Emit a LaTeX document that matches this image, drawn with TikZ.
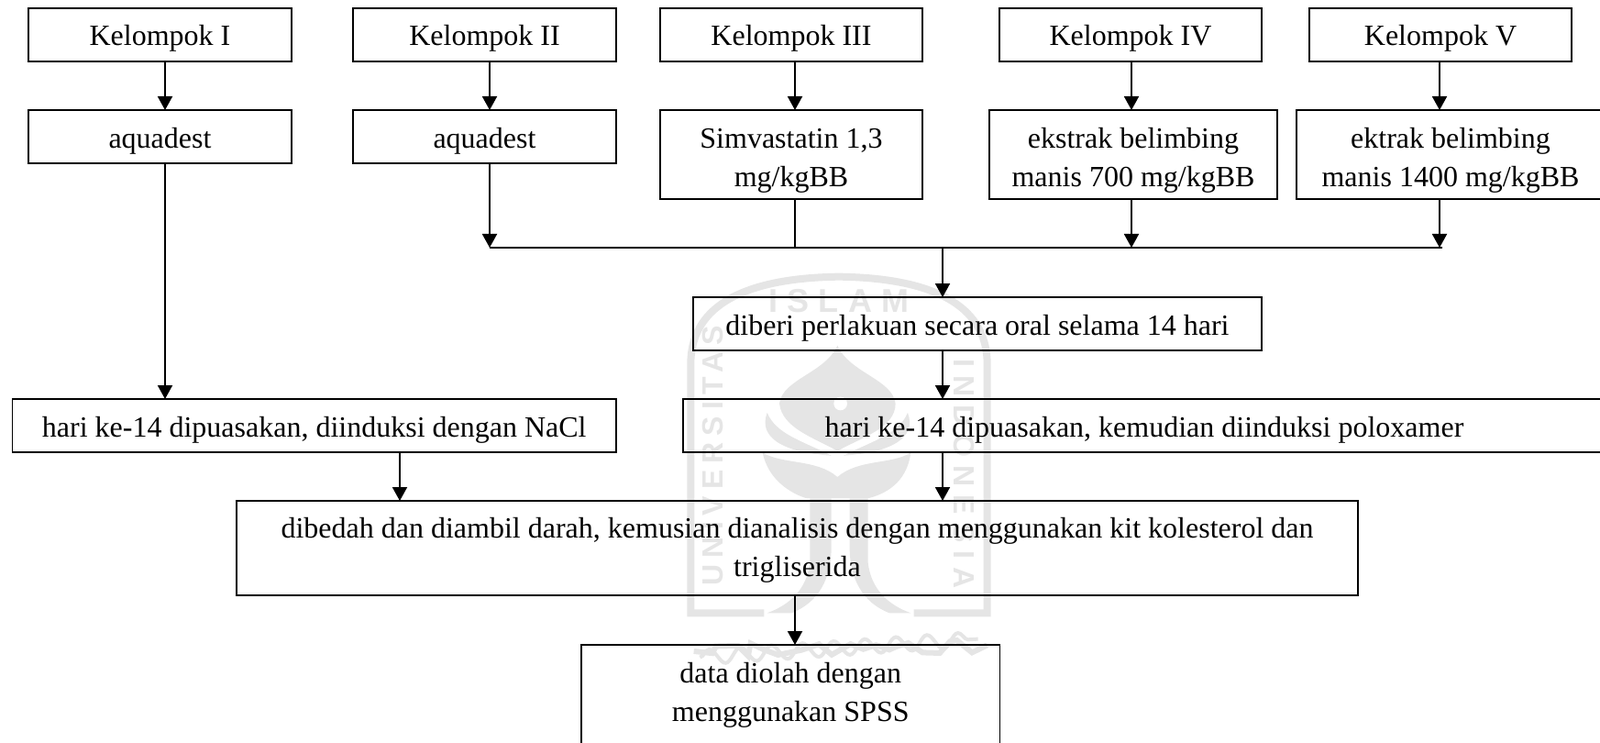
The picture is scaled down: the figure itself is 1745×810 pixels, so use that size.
\documentclass[tikz,border=0pt]{standalone}
\usepackage{fontspec}
\setmainfont{Liberation Serif}
\newfontfamily\wmfont{Liberation Sans}
\usetikzlibrary{arrows.meta,decorations.pathmorphing}
\definecolor{wm}{gray}{0.90}
\newcommand\boxtxt[2]{\raisebox{#1pt}[0pt][0pt]{\begin{tabular}[t]{@{}c@{}}#2\end{tabular}}}
\tikzset{
  flowbox/.style={draw=black,line width=1.9pt,fill=none,rectangle,inner sep=0pt,outer sep=0pt,anchor=center},
  flowline/.style={draw=black,line width=1.9pt},
  flowarrow/.style={flowline,-{Triangle[width=16pt,length=15pt]}},
  wmletter/.style={text=wm,inner sep=0pt},
}
\begin{document}
\begin{tikzpicture}[x=1pt,y=-1pt,every node/.append style={font=\fontsize{32}{42}\selectfont}]
\useasboundingbox (0,0) rectangle (1745,810);
% watermark
\begin{scope}[shift={(720,280)},x=0.3333pt,y=-0.3333pt]
  \draw[wm,line width=8pt] (340,1165) -- (100,1165) -- (100,350) .. controls (100,180) and (240,70) .. (585,65) .. controls (930,70) and (1070,180) .. (1070,350) -- (1070,1165) -- (830,1165);
  \fill[wm] (580,290) .. controls (540,380) and (400,400) .. (390,480) .. controls (400,560) and (500,590) .. (580,635) .. controls (660,590) and (770,560) .. (770,480) .. controls (760,400) and (620,380) .. (580,290) -- cycle;
  \fill[white] (590,480) circle (22);
  \fill[wm] (335,640) .. controls (360,760) and (480,790) .. (480,790) -- (680,790) .. controls (760,770) and (810,720) .. (820,640) .. controls (760,680) and (650,660) .. (580,720) .. controls (510,660) and (400,680) .. (335,640) -- cycle;
  \fill[wm] (350,510) .. controls (320,590) and (400,640) .. (560,650) .. controls (460,600) and (380,580) .. (350,510) -- cycle;
  \fill[wm] (810,510) .. controls (840,590) and (760,640) .. (600,650) .. controls (700,600) and (780,580) .. (810,510) -- cycle;
  \fill[wm] (490,790) -- (490,1000) .. controls (480,1090) and (420,1140) .. (350,1165) -- (430,1165) .. controls (520,1130) and (560,1050) .. (560,950) -- (560,790) -- cycle;
  \fill[wm] (620,790) -- (620,950) .. controls (620,1050) and (660,1130) .. (750,1165) -- (820,1165) .. controls (750,1140) and (690,1090) .. (680,1000) -- (680,790) -- cycle;
  \draw[wm,line width=6pt,decorate,decoration={random steps,segment length=14pt,amplitude=8pt}] (110,1290) -- (1070,1270);
  \draw[wm,line width=4pt,decorate,decoration={snake,amplitude=8pt,segment length=34pt}] (130,1310) -- (1040,1250);
  \node[wmletter,font=\wmfont\bfseries\fontsize{36}{36}\selectfont\addfontfeature{LetterSpace=28}] (wmislam) at (585,145) {ISLAM};
  \node[wmletter,rotate=90,font=\wmfont\bfseries\fontsize{32}{32}\selectfont\addfontfeature{LetterSpace=22}] (wmuniv) at (172,650) {UNIVERSITAS};
  \node[wmletter,rotate=-90,font=\wmfont\bfseries\fontsize{32}{32}\selectfont\addfontfeature{LetterSpace=28}] (wmindo) at (995,710) {INDONESIA};
\end{scope}
% column coordinates
\coordinate (c1) at (180,0);
\coordinate (c2) at (534,0);
\coordinate (c3) at (867,0);
\coordinate (c4) at (1234,0);
\coordinate (c5) at (1570,0);
\coordinate (cm) at (1028,0);
\coordinate (cn) at (436,0);
\coordinate (busL) at (534,270);
\coordinate (busR) at (1573,270);
% row 1
\node[flowbox,minimum width=287pt,minimum height=58pt] (k1) at (174.5,37.7) {\boxtxt{-12.2}{Kelompok I}};
\node[flowbox,minimum width=287pt,minimum height=58pt] (k2) at (528.5,37.7) {\boxtxt{-12.2}{Kelompok II}};
\node[flowbox,minimum width=286pt,minimum height=58pt] (k3) at (863,37.7) {\boxtxt{-12.2}{Kelompok III}};
\node[flowbox,minimum width=286pt,minimum height=58pt] (k4) at (1233,37.7) {\boxtxt{-12.2}{Kelompok IV}};
\node[flowbox,minimum width=286pt,minimum height=58pt] (k5) at (1571,37.7) {\boxtxt{-12.2}{Kelompok V}};
% row 2
\node[flowbox,minimum width=287pt,minimum height=58pt] (a1) at (174.5,149) {\boxtxt{-12.5}{aquadest}};
\node[flowbox,minimum width=287pt,minimum height=58pt] (a2) at (528.5,149) {\boxtxt{-12.5}{aquadest}};
\node[flowbox,minimum width=286pt,minimum height=97pt] (a3) at (863,168.5) {\boxtxt{7}{Simvastatin 1,3\\mg/kgBB}};
\node[flowbox,minimum width=314pt,minimum height=97pt] (a4) at (1236,168.5) {\boxtxt{7}{ekstrak belimbing\\manis 700 mg/kgBB}};
\node[flowbox,minimum width=336pt,minimum height=97pt] (a5) at (1582,168.5) {\boxtxt{7}{ektrak belimbing\\manis 1400 mg/kgBB}};
% lower boxes
\node[flowbox,minimum width=620pt,minimum height=58pt] (d) at (1066,353) {\boxtxt{-12.5}{diberi perlakuan secara oral selama 14 hari}};
\node[flowbox,minimum width=658.5pt,minimum height=58pt] (h1) at (342.75,464) {\boxtxt{-12.5}{hari ke-14 dipuasakan, diinduksi dengan NaCl}};
\node[flowbox,minimum width=1006pt,minimum height=58pt] (h2) at (1248,464) {\boxtxt{-12.5}{hari ke-14 dipuasakan, kemudian diinduksi poloxamer}};
\node[flowbox,minimum width=1223pt,minimum height=103pt] (b) at (869.5,597.5) {\boxtxt{10.6}{dibedah dan diambil darah, kemusian dianalisis dengan menggunakan kit kolesterol dan\\trigliserida}};
\node[flowbox,minimum width=456.5pt,minimum height=127pt] (s) at (862.25,766.5) {\boxtxt{22.5}{data diolah dengan\\menggunakan SPSS}};
% connectors
\draw[flowarrow] (k1.south -| c1) -- (a1.north -| c1);
\draw[flowarrow] (k2.south -| c2) -- (a2.north -| c2);
\draw[flowarrow] (k3.south -| c3) -- (a3.north -| c3);
\draw[flowarrow] (k4.south -| c4) -- (a4.north -| c4);
\draw[flowarrow] (k5.south -| c5) -- (a5.north -| c5);
\draw[flowarrow] (a1.south -| c1) -- (h1.north -| c1);
\draw[flowarrow] (a2.south -| c2) -- (busL);
\draw[flowline,line width=1.2pt] (a3.south -| c3) -- (busL -| c3);
\draw[flowarrow] (a4.south -| c4) -- (busL -| c4);
\draw[flowarrow] (a5.south -| c5) -- (busL -| c5);
\draw[flowline] (busL) -- (busR);
\draw[flowarrow] (busL -| cm) -- (d.north -| cm);
\draw[flowarrow] (d.south -| cm) -- (h2.north -| cm);
\draw[flowarrow] (h1.south -| cn) -- (b.north -| cn);
\draw[flowarrow] (h2.south -| cm) -- (b.north -| cm);
\draw[flowarrow] (b.south -| c3) -- (s.north -| c3);
\end{tikzpicture}
\end{document}
